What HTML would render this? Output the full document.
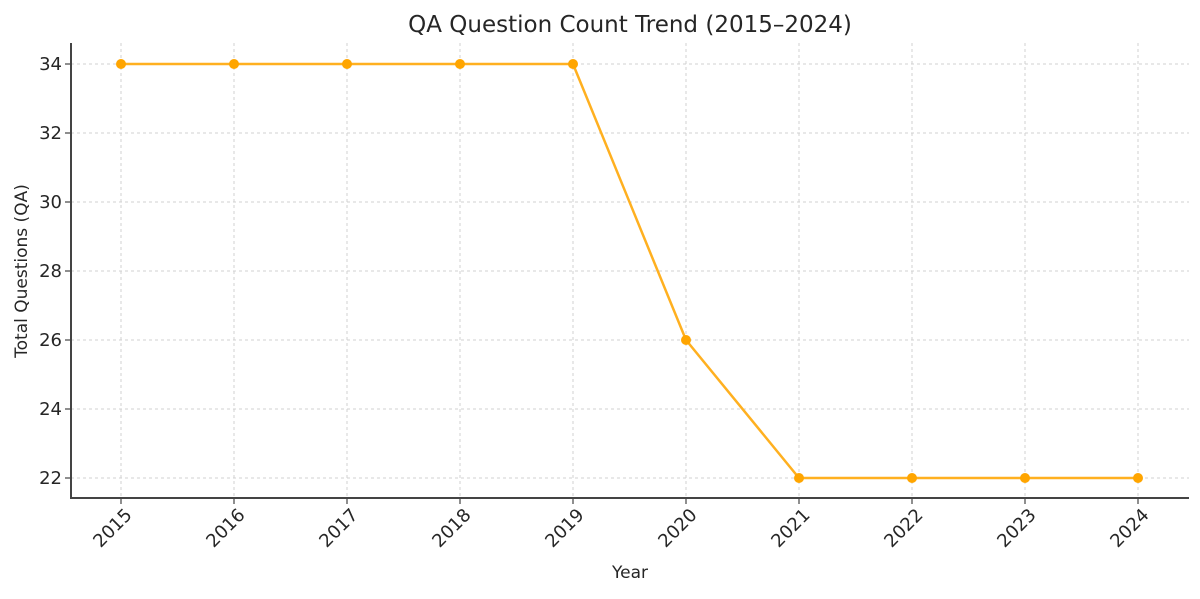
<!DOCTYPE html>
<html><head><meta charset="utf-8"><style>body{margin:0;background:#fff}</style></head><body>
<svg width="1200" height="594" xmlns="http://www.w3.org/2000/svg" font-family="DejaVu Sans, Liberation Sans, sans-serif">
<rect width="1200" height="594" fill="#fff"/>
<text x="630" y="32" font-size="23" text-anchor="middle" fill="#262626">QA Question Count Trend (2015–2024)</text>
<g stroke="#d0d0d0" stroke-width="1" stroke-dasharray="3,3">
<line x1="71" x2="1189" y1="64" y2="64"/><line x1="71" x2="1189" y1="133" y2="133"/><line x1="71" x2="1189" y1="202" y2="202"/><line x1="71" x2="1189" y1="271" y2="271"/><line x1="71" x2="1189" y1="340" y2="340"/><line x1="71" x2="1189" y1="409" y2="409"/><line x1="71" x2="1189" y1="478" y2="478"/>
<line x1="121" x2="121" y1="43" y2="498"/><line x1="234" x2="234" y1="43" y2="498"/><line x1="347" x2="347" y1="43" y2="498"/><line x1="460" x2="460" y1="43" y2="498"/><line x1="573" x2="573" y1="43" y2="498"/><line x1="686" x2="686" y1="43" y2="498"/><line x1="799" x2="799" y1="43" y2="498"/><line x1="912" x2="912" y1="43" y2="498"/><line x1="1025" x2="1025" y1="43" y2="498"/><line x1="1138" x2="1138" y1="43" y2="498"/>
</g>
<g stroke="#444" stroke-width="2"><line x1="71" y1="43" x2="71" y2="499"/><line x1="70" y1="498" x2="1189" y2="498"/></g>
<g stroke="#444" stroke-width="1.2">
<line x1="65" x2="71" y1="64" y2="64"/><line x1="65" x2="71" y1="133" y2="133"/><line x1="65" x2="71" y1="202" y2="202"/><line x1="65" x2="71" y1="271" y2="271"/><line x1="65" x2="71" y1="340" y2="340"/><line x1="65" x2="71" y1="409" y2="409"/><line x1="65" x2="71" y1="478" y2="478"/>
<line x1="121" x2="121" y1="498" y2="504"/><line x1="234" x2="234" y1="498" y2="504"/><line x1="347" x2="347" y1="498" y2="504"/><line x1="460" x2="460" y1="498" y2="504"/><line x1="573" x2="573" y1="498" y2="504"/><line x1="686" x2="686" y1="498" y2="504"/><line x1="799" x2="799" y1="498" y2="504"/><line x1="912" x2="912" y1="498" y2="504"/><line x1="1025" x2="1025" y1="498" y2="504"/><line x1="1138" x2="1138" y1="498" y2="504"/>
</g>
<g font-size="18" fill="#262626" text-anchor="end">
<text x="62" y="70">34</text><text x="62" y="139">32</text><text x="62" y="208">30</text><text x="62" y="277">28</text><text x="62" y="346">26</text><text x="62" y="415">24</text><text x="62" y="484">22</text>
</g>
<g font-size="18" fill="#262626" text-anchor="end">
<text transform="translate(133,516) rotate(-45)">2015</text>
<text transform="translate(246,516) rotate(-45)">2016</text>
<text transform="translate(359,516) rotate(-45)">2017</text>
<text transform="translate(472,516) rotate(-45)">2018</text>
<text transform="translate(585,516) rotate(-45)">2019</text>
<text transform="translate(698,516) rotate(-45)">2020</text>
<text transform="translate(811,516) rotate(-45)">2021</text>
<text transform="translate(924,516) rotate(-45)">2022</text>
<text transform="translate(1037,516) rotate(-45)">2023</text>
<text transform="translate(1150,516) rotate(-45)">2024</text>
</g>
<text x="630" y="578" font-size="17" text-anchor="middle" fill="#262626">Year</text>
<text transform="translate(27,271) rotate(-90)" font-size="17" text-anchor="middle" fill="#262626">Total Questions (QA)</text>
<polyline fill="none" stroke="#ffb020" stroke-width="2.5" points="121,64 234,64 347,64 460,64 573,64 686,340 799,478 912,478 1025,478 1138,478"/>
<g fill="#ffa500">
<circle cx="121" cy="64" r="5"/><circle cx="234" cy="64" r="5"/><circle cx="347" cy="64" r="5"/><circle cx="460" cy="64" r="5"/><circle cx="573" cy="64" r="5"/><circle cx="686" cy="340" r="5"/><circle cx="799" cy="478" r="5"/><circle cx="912" cy="478" r="5"/><circle cx="1025" cy="478" r="5"/><circle cx="1138" cy="478" r="5"/>
</g>
</svg>
</body></html>
